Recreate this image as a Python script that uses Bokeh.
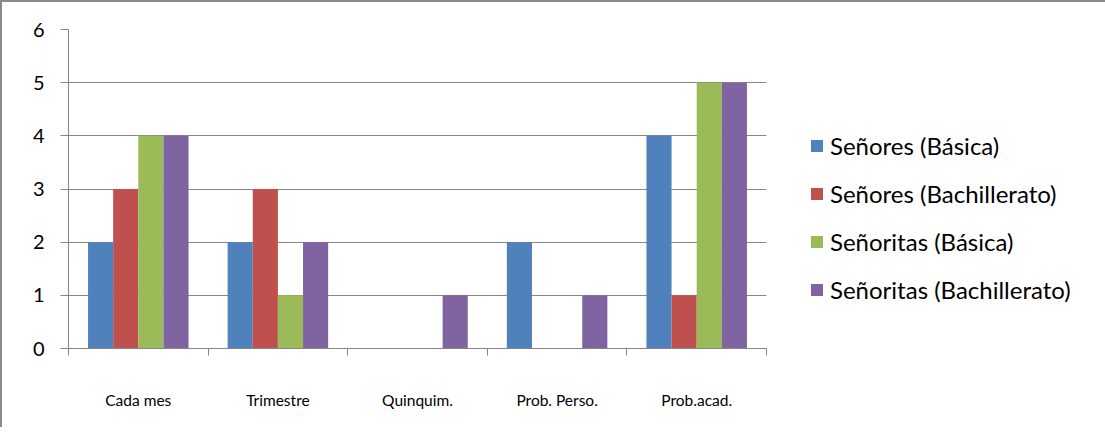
from bokeh.plotting import figure
from bokeh.models import (ColumnDataSource, FixedTicker, Range1d, Legend, LegendItem)
from bokeh.transform import dodge
from bokeh.embed import file_html
from bokeh.resources import INLINE

categories = ["Cada mes", "Trimestre", "Quinquim.", "Prob. Perso.", "Prob.acad."]
series_names = ["Señores (Básica)", "Señores (Bachillerato)", "Señoritas (Básica)", "Señoritas (Bachillerato)"]
senores_basica = [2, 2, 0, 2, 4]
senores_bach = [3, 3, 0, 0, 1]
senoritas_basica = [4, 1, 0, 0, 5]
senoritas_bach = [4, 2, 1, 1, 5]
y_ticks = [0, 1, 2, 3, 4, 5, 6]

colors = ["#4F81BD", "#C0504D", "#9BBB59", "#8064A2"]
FONT = "Lato"
GRAY = "#868686"

centers = [i + 0.5 for i in range(len(categories))]
src = ColumnDataSource(dict(x=centers, s0=senores_basica, s1=senores_bach,
                            s2=senoritas_basica, s3=senoritas_bach))

p = figure(frame_width=698, frame_height=319, output_backend="svg", toolbar_location=None,
           x_range=Range1d(0, len(categories)), y_range=Range1d(0, 6),
           min_border_left=66, min_border_right=0, min_border_top=27, min_border_bottom=79)
p.styles = {"border-left": "2px solid #8a8a8a", "border-top": "2px solid #8a8a8a"}
p.outline_line_color = None
p.background_fill_color = "white"
p.border_fill_color = "white"

offsets = [-0.27, -0.09, 0.09, 0.27]
renderers = []
for k, (col, c) in enumerate(zip(["s0", "s1", "s2", "s3"], colors)):
    r = p.vbar(x=dodge("x", offsets[k], range=p.x_range), top=col, width=0.18,
               source=src, fill_color=c, line_color=None)
    renderers.append(r)

# x axis
xa = p.xaxis[0]
xa.ticker = FixedTicker(ticks=centers, minor_ticks=list(range(len(categories) + 1)))
xa.major_label_overrides = {c: name for c, name in zip(centers, categories)}
xa.major_tick_out = 0
xa.major_tick_in = 0
xa.minor_tick_out = 7
xa.minor_tick_in = 0
xa.minor_tick_line_color = GRAY
xa.axis_line_color = GRAY
xa.major_label_standoff = 35
xa.major_label_text_font = FONT
xa.major_label_text_font_size = "15.5px"
xa.major_label_text_color = "black"

# y axis
ya = p.yaxis[0]
ya.ticker = FixedTicker(ticks=y_ticks)
ya.major_tick_out = 8
ya.major_tick_in = 0
ya.minor_tick_line_color = None
ya.major_tick_line_color = GRAY
ya.axis_line_color = GRAY
ya.major_label_standoff = 16
ya.major_label_text_font = FONT
ya.major_label_text_font_size = "20px"
ya.major_label_text_color = "black"

p.xgrid.grid_line_color = None
p.ygrid.grid_line_color = GRAY
p.ygrid.ticker = FixedTicker(ticks=y_ticks)

legend = Legend(items=[LegendItem(label=n, renderers=[r]) for n, r in zip(series_names, renderers)],
                location=(43, 44))
legend.border_line_color = None
legend.background_fill_alpha = 0
legend.padding = 0
legend.margin = 0
legend.spacing = 18
legend.label_height = 30
legend.glyph_height = 15
legend.glyph_width = 15
legend.label_standoff = 6
legend.label_text_font = FONT
legend.label_text_font_size = "24px"
legend.label_text_color = "black"
p.add_layout(legend, "right")

open("out.html", "w").write(file_html(p, INLINE))
